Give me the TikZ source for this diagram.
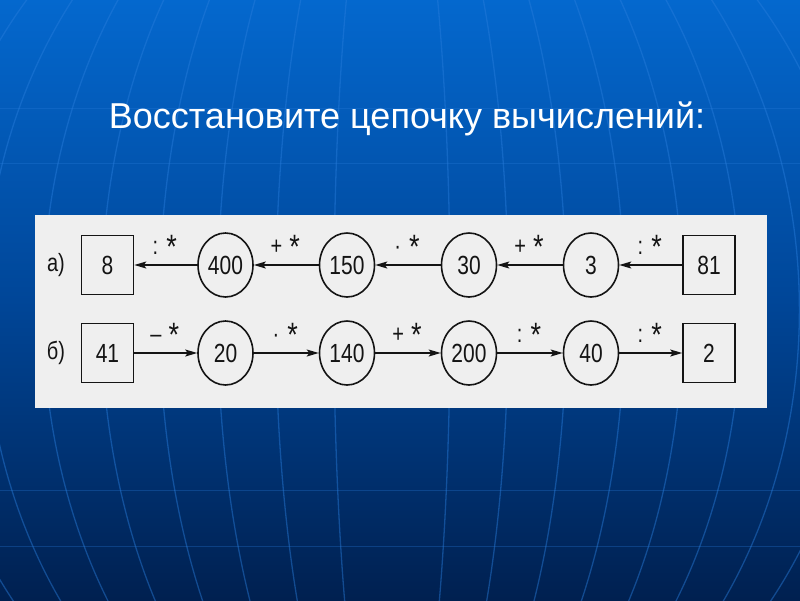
\documentclass[tikz,border=0pt]{standalone}
\usepackage{fontspec}
\setmainfont{Liberation Sans}
\usetikzlibrary{shapes.geometric,arrows.meta}
\definecolor{bgtop}{RGB}{4,104,206}
\definecolor{bgmid}{RGB}{0,70,152}
\definecolor{bgbot}{RGB}{0,32,80}
\definecolor{gridc}{RGB}{40,125,220}
\definecolor{panelc}{RGB}{239,239,239}
\definecolor{inkc}{RGB}{20,20,20}
\newcommand{\tallt}[1]{\scalebox{1}[1.25]{#1}}
\newcommand{\bigstar}{\raisebox{-3.5pt}{\scalebox{1.35}{*}}}
\begin{document}
\begin{tikzpicture}[x=1pt,y=-1pt,
  sqbox/.style={draw=inkc, line width=1.6pt, minimum width=52pt, minimum height=59pt, inner sep=0pt, text=inkc, font=\fontsize{21}{21}\selectfont},
  elbox/.style={draw=inkc, ellipse, line width=1.6pt, minimum width=55pt, minimum height=64pt, inner sep=0pt, text=inkc, font=\fontsize{21}{21}\selectfont},
  arr/.style={draw=inkc, line width=1.6pt, -{Stealth[length=12pt,width=7pt,inset=2.5pt]}},
  lbl/.style={anchor=base, yshift=11pt, xshift=-1pt, text=inkc, font=\fontsize{20}{20}\selectfont},
  rowlbl/.style={text=inkc, font=\fontsize{20}{20}\selectfont},
  gridline/.style={draw=gridc, line width=1.3pt, opacity=0.45},
  parline/.style={draw=gridc, line width=1pt, opacity=0.3}]
\useasboundingbox (0,0) rectangle (800,600);
% background
\shade[top color=bgtop, bottom color=bgbot, middle color=bgmid] (0,0) rectangle (800,600);
\begin{scope}
\clip (0,0) rectangle (800,600);
\foreach \k in {1,...,9} {
  \draw[gridline] (392,310) ellipse [x radius=58.2*\k pt, y radius=500pt];
}
\foreach \yy in {108,163,490,546} {
  \draw[parline] (0,\yy) -- (800,\yy);
}
\end{scope}
% title
\node[anchor=base, text=white, font=\fontsize{36}{36}\selectfont] (title) at (407,128) {Восстановите цепочку вычислений:};
% panel
\fill[panelc] (35,215) rectangle (767,408);
% row a
\node[rowlbl] (la) at (56,265) {\tallt{а)}};
\node[sqbox] (a8) at (107.5,265) {\tallt{8}};
\node[elbox] (a400) at (225.5,265) {\tallt{400}};
\node[elbox] (a150) at (347,265) {\tallt{150}};
\node[elbox] (a30) at (469,265) {\tallt{30}};
\node[elbox] (a3) at (591,265) {\tallt{3}};
\node[sqbox] (a81) at (709,265) {\tallt{81}};
\draw[arr] (a81) -- node[lbl]{\tallt{:\hspace{8pt}\bigstar}} (a3);
\draw[arr] (a3) -- node[lbl]{\tallt{+\hspace{7pt}\bigstar}} (a30);
\draw[arr] (a30) -- node[lbl]{\tallt{·\hspace{8pt}\bigstar}} (a150);
\draw[arr] (a150) -- node[lbl]{\tallt{+\hspace{7pt}\bigstar}} (a400);
\draw[arr] (a400) -- node[lbl]{\tallt{:\hspace{8pt}\bigstar}} (a8);
% row b
\node[rowlbl] (lb) at (56,353) {\tallt{б)}};
\node[sqbox] (b41) at (107.5,353) {\tallt{41}};
\node[elbox] (b20) at (225.5,353) {\tallt{20}};
\node[elbox] (b140) at (347,353) {\tallt{140}};
\node[elbox] (b200) at (469,353) {\tallt{200}};
\node[elbox] (b40) at (591,353) {\tallt{40}};
\node[sqbox] (b2) at (709,353) {\tallt{2}};
\draw[arr] (b41) -- node[lbl]{\tallt{–\hspace{7pt}\bigstar}} (b20);
\draw[arr] (b20) -- node[lbl]{\tallt{·\hspace{8pt}\bigstar}} (b140);
\draw[arr] (b140) -- node[lbl]{\tallt{+\hspace{7pt}\bigstar}} (b200);
\draw[arr] (b200) -- node[lbl]{\tallt{:\hspace{8pt}\bigstar}} (b40);
\draw[arr] (b40) -- node[lbl]{\tallt{:\hspace{8pt}\bigstar}} (b2);
\end{tikzpicture}
\end{document}
